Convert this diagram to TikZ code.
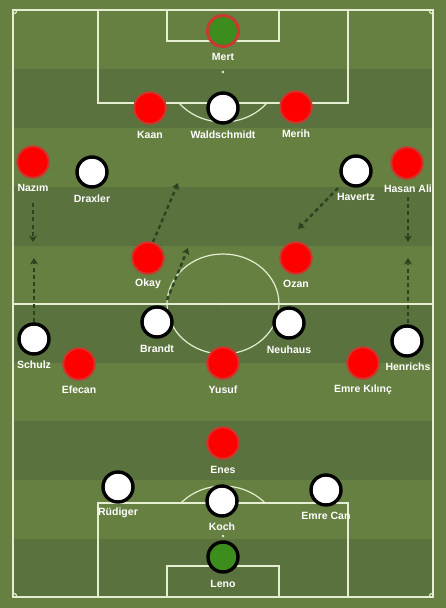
\documentclass[tikz,border=0pt]{standalone}
\usepackage{fontspec}
\setmainfont{Liberation Sans}
\usetikzlibrary{arrows.meta}
\definecolor{grassL}{HTML}{658041}
\definecolor{grassD}{HTML}{5A733E}
\definecolor{pline}{HTML}{E6EED2}
\definecolor{arr}{HTML}{2A4420}
\definecolor{redp}{HTML}{FF0000}
\definecolor{redb}{HTML}{C83A2E}
\definecolor{gk}{HTML}{3C8C1E}
\tikzset{
  fline/.style={draw=pline, line width=1.2},
  redpl/.style={circle, minimum size=31.5, inner sep=0, fill=redp, draw=redb, line width=2},
  whitepl/.style={circle, minimum size=30, inner sep=0, fill=white, draw=black, line width=3.4},
  gkred/.style={circle, minimum size=31, inner sep=0, fill=gk, draw=redb, line width=3},
  gkwhite/.style={circle, minimum size=30, inner sep=0, fill=gk, draw=black, line width=3.4},
  lbl/.style={text=white, font=\bfseries\fontsize{10.5}{12}\selectfont, inner sep=0},
  mv/.style={draw=arr, line width=2.4, dash pattern=on 4 off 3.2, -{Stealth[length=6.5,width=8,inset=2]}},
}
\begin{document}
\begin{tikzpicture}[x=1pt,y=-1pt]
\useasboundingbox (0,0) rectangle (446,608);
\fill[grassL] (0,0) rectangle (446,608);
% stripes
\foreach \y in {69,187,304,421,539}{
  \fill[grassD] (13,\y) rectangle (433,\y+58.5);
}
% field lines
\draw[fline] (13,10) rectangle (433,597);
\draw[fline] (13,304) -- (433,304);
\draw[fline] (223,304) ellipse [x radius=56, y radius=50];
\fill[pline] (223,304) circle (1.3);
% top
\draw[fline] (98,10) -- (98,103) -- (348,103) -- (348,10);
\draw[fline] (167,10) -- (167,41) -- (279,41) -- (279,10);
\fill[pline] (223,72) circle (1.3);
\begin{scope}
\clip (98,103) rectangle (348,200);
\draw[fline] (223,72) ellipse [x radius=56, y radius=50];
\end{scope}
% bottom
\draw[fline] (98,597) -- (98,503) -- (348,503) -- (348,597);
\draw[fline] (167,597) -- (167,566) -- (279,566) -- (279,597);
\fill[pline] (223,536) circle (1.3);
\begin{scope}
\clip (98,503) rectangle (348,400);
\draw[fline] (223,536) ellipse [x radius=56, y radius=50];
\end{scope}
% corners
\draw[fline] (13,14) arc[start angle=90, end angle=0, radius=4];
\draw[fline] (429,10) arc[start angle=180, end angle=90, radius=4];
\draw[fline] (13,593) arc[start angle=-90, end angle=0, radius=4];
\draw[fline] (429,597) arc[start angle=180, end angle=270, radius=4];

% players
\node[gkred] (mert) at (223,31) {};
\node[lbl] (lmert) at (223,57) {Mert};
\node[redpl] (kaan) at (150,108) {};
\node[lbl] (lkaan) at (150,135) {Kaan};
\node[whitepl] (wald) at (223,108) {};
\node[lbl] (lwald) at (223,135) {Waldschmidt};
\node[redpl] (merih) at (296,107) {};
\node[lbl] (lmerih) at (296,134) {Merih};
\node[redpl] (nazim) at (33,162) {};
\node[lbl] (lnazim) at (33,188) {Nazım};
\node[whitepl] (draxler) at (92,172) {};
\node[lbl] (ldraxler) at (92,199) {Draxler};
\node[whitepl] (havertz) at (356,171) {};
\node[lbl] (lhavertz) at (356,197) {Havertz};
\node[redpl] (hasan) at (407,163) {};
\node[lbl] (lhasan) at (408,189) {Hasan Ali};
\node[redpl] (okay) at (148,258) {};
\node[lbl] (lokay) at (148,284) {Okay};
\node[redpl] (ozan) at (296,258) {};
\node[lbl] (lozan) at (296,284) {Ozan};
\node[whitepl] (brandt) at (157,322) {};
\node[lbl] (lbrandt) at (157,349) {Brandt};
\node[whitepl] (neuhaus) at (289,323) {};
\node[lbl] (lneuhaus) at (289,350) {Neuhaus};
\node[whitepl] (schulz) at (34,339) {};
\node[lbl] (lschulz) at (34,365) {Schulz};
\node[whitepl] (henrichs) at (407,341) {};
\node[lbl] (lhenrichs) at (408,367) {Henrichs};
\node[redpl] (efecan) at (79,364) {};
\node[lbl] (lefecan) at (79,390) {Efecan};
\node[redpl] (yusuf) at (223,363) {};
\node[lbl] (lyusuf) at (223,390) {Yusuf};
\node[redpl] (emrek) at (363,363) {};
\node[lbl] (lemrek) at (363,390) {Emre Kılınç};
\node[redpl] (enes) at (223,443) {};
\node[lbl] (lenes) at (223,470) {Enes};
\node[whitepl] (rudiger) at (118,487) {};
\node[lbl] (lrudiger) at (118,513) {Rüdiger};
\node[whitepl] (koch) at (222,501) {};
\node[lbl] (lkoch) at (222,527) {Koch};
\node[whitepl] (emrec) at (326,490) {};
\node[lbl] (lemrec) at (326,516) {Emre Can};
\node[gkwhite] (leno) at (223,557) {};
\node[lbl] (lleno) at (223,584) {Leno};

% movement arrows
\coordinate (a1s) at (33,203); \coordinate (a1e) at (33,242);
\coordinate (a2s) at (34,322); \coordinate (a2e) at (34,258);
\coordinate (a3s) at (153,242); \coordinate (a3e) at (178,183);
\coordinate (a4s) at (167,300); \coordinate (a4e) at (188,248);
\coordinate (a5s) at (338,188); \coordinate (a5e) at (298,229);
\coordinate (a6s) at (408,197); \coordinate (a6e) at (408,242);
\coordinate (a7s) at (408,323); \coordinate (a7e) at (408,258);
\draw[mv] (a1s) -- (a1e);
\draw[mv] (a2s) -- (a2e);
\draw[mv] (a3s) -- (a3e);
\draw[mv] (a4s) -- (a4e);
\draw[mv] (a5s) -- (a5e);
\draw[mv] (a6s) -- (a6e);
\draw[mv] (a7s) -- (a7e);
\end{tikzpicture}
\end{document}
